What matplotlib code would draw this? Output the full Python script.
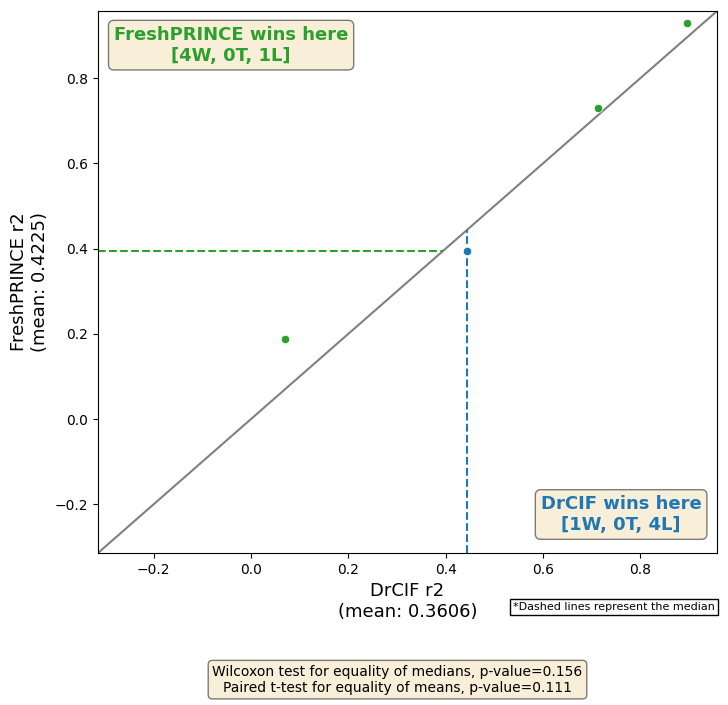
import numpy as np
import matplotlib
matplotlib.use("Agg")
import matplotlib.pyplot as plt

# r2 per dataset (DrCIF on x, FreshPRINCE on y)
drcif = np.array([-0.324, 0.071, 0.445, 0.714, 0.897])
freshprince = np.array([-0.1327, 0.189, 0.395, 0.731, 0.930])
name_a = "DrCIF"
name_b = "FreshPRINCE"
wins_a = "[1W, 0T, 4L]"
wins_b = "[4W, 0T, 1L]"
p_wilcoxon = 0.156
p_ttest = 0.111

lo = min(drcif.min(), freshprince.min()) * 0.97
hi = max(drcif.max(), freshprince.max()) * 1.03
med_a = np.median(drcif)
med_b = np.median(freshprince)

fig = plt.figure(figsize=(7.28, 7.05), dpi=100)
ax = fig.add_axes([0.1346, 0.2156, 0.8504, 0.7688])

ax.plot([lo, hi], [lo, hi], color="grey", lw=1.5, zorder=1)

b_wins = freshprince > drcif
ax.scatter(drcif[b_wins], freshprince[b_wins], color="tab:green", s=36,
           edgecolor="white", linewidth=0.5, zorder=3)
ax.scatter(drcif[~b_wins], freshprince[~b_wins], color="tab:blue", s=36,
           edgecolor="white", linewidth=0.5, zorder=3)

# median lines up to the diagonal
ax.plot([med_a, med_a], [lo, med_a], color="tab:blue", ls="--", lw=1.5, zorder=2)
ax.plot([lo, med_b], [med_b, med_b], color="tab:green", ls="--", lw=1.5, zorder=2)

ax.set_xlim(lo, hi)
ax.set_ylim(lo, hi)
ax.set_xticks([-0.2, 0.0, 0.2, 0.4, 0.6, 0.8])
ax.set_yticks([-0.2, 0.0, 0.2, 0.4, 0.6, 0.8])

ax.set_xlabel(f"{name_a} r2\n(mean: {drcif.mean():.4f})", fontsize=13)
ax.set_ylabel(f"{name_b} r2\n(mean: {freshprince.mean():.4f})", fontsize=13)

box = dict(boxstyle="round", facecolor="wheat", alpha=0.5)
ax.text(0.215, 0.937, f"{name_b} wins here\n{wins_b}", transform=ax.transAxes,
        ha="center", va="center", fontsize=13, fontweight="bold",
        color="tab:green", bbox=box)
ax.text(0.845, 0.071, f"{name_a} wins here\n{wins_a}", transform=ax.transAxes,
        ha="center", va="center", fontsize=13, fontweight="bold",
        color="tab:blue", bbox=box)

fig.text(0.982, 0.139, "*Dashed lines represent the median", ha="right",
         va="center", fontsize=8,
         bbox=dict(boxstyle="square", facecolor="white", edgecolor="black"))
fig.text(0.546, 0.036,
         f"Wilcoxon test for equality of medians, p-value={p_wilcoxon:.3f}\n"
         f"Paired t-test for equality of means, p-value={p_ttest:.3f}",
         ha="center", va="center", fontsize=10, bbox=box)

fig.savefig("out.png", dpi=100)
